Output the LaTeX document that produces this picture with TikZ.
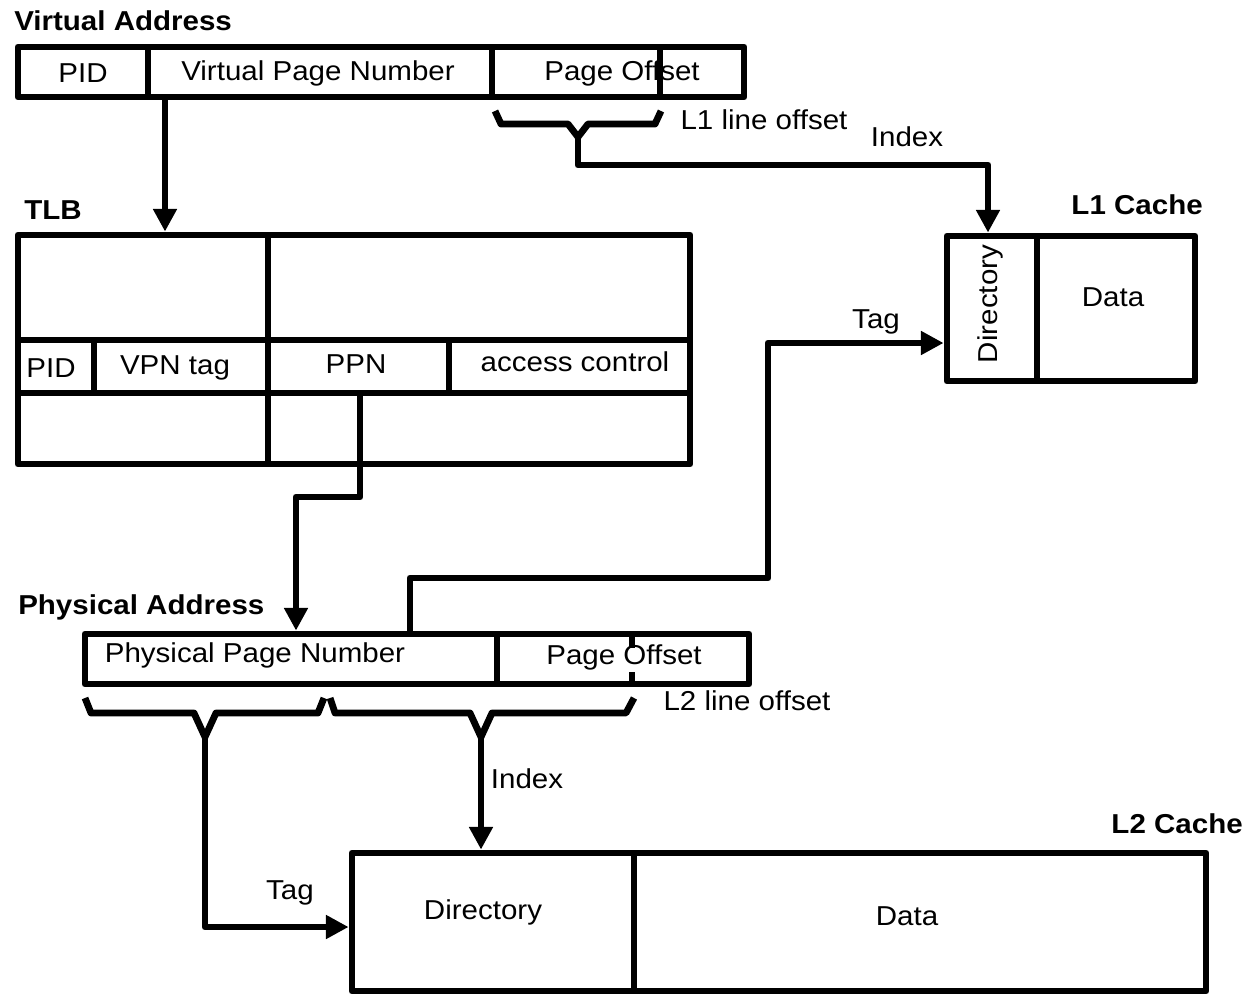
\documentclass[tikz,border=0pt]{standalone}
\usepackage{fontspec}
\setmainfont[FakeStretch=1.08]{Liberation Sans}
\usetikzlibrary{arrows.meta,fit,calc}
\begin{document}
\begin{tikzpicture}[x=0.75pt,y=-0.75pt,line join=round,
  box/.style={draw,line width=5.1pt,inner sep=0pt},
  wire/.style={line width=5.1pt},
  thin/.style={line width=3.8pt},
  arr/.style={line width=5.1pt,-{Triangle[length=17pt,width=17pt]}},
  lbl/.style={font=\fontsize{20.5}{24}\selectfont,inner sep=0pt},
  ttl/.style={font=\fontsize{20.5}{24}\selectfont\bfseries,inner sep=0pt}]
\useasboundingbox (0,0) rectangle (1248,995);

% ---------- Virtual address ----------
\node[ttl,anchor=west] (vat) at (14,21) {Virtual Address};
\node[box,fit={(18,47)(744,97)}] (va) {};
\draw[wire] (148,47) -- (148,97);
\draw[wire] (492,47) -- (492,97);
\draw[thin] (660,47) -- (660,97);
\node[lbl] (vpid) at (83,73) {PID};
\node[lbl] (vvpn) at (318,73) {Virtual Page Number};
\node[lbl] (vpo) at (622,73) {Page Offset};

% L1 brace
\coordinate (b1) at (578,137);
\draw[wire] (495,111) -- (501,124) -- (568,124) -- (b1) -- (588,124) -- (655,124) -- (661,111);
\node[lbl] (l1lo) at (764,120) {L1 line offset};
\node[lbl] (l1idx) at (907,137) {Index};

% ---------- TLB ----------
\node[ttl,anchor=west] (tlbt) at (24,210) {TLB};
\node[box,fit={(18,235)(690,464)}] (tlb) {};
\draw[wire] (18,340) -- (690,340);
\draw[wire] (18,393) -- (690,393);
\draw[wire] (268,235) -- (268,464);
\draw[wire] (94,340) -- (94,393);
\draw[wire] (449,340) -- (449,393);
\node[lbl] (tpid) at (51,368) {PID};
\node[lbl] (tvpn) at (175,368) {VPN tag};
\node[lbl] (tppn) at (356,364) {PPN};
\node[lbl] (tac) at (575,362) {access control};
\coordinate (vaout) at (165,97);
\draw[arr] (vaout) -- (vaout |- tlb.north);

% ---------- L1 cache ----------
\node[ttl,anchor=east] (l1t) at (1203,205) {L1 Cache};
\node[box,fit={(947,236)(1195,381)}] (l1) {};
\draw[wire] (1037,236) -- (1037,381);
\node[lbl,rotate=90] (l1dir) at (990,304) {Directory};
\node[lbl] (l1data) at (1113,297) {Data};
\draw[arr] (b1) -- (578,165) -- (988,165) -- (988,0 |- l1.north);

% ---------- Physical address ----------
\node[ttl,anchor=west] (pat) at (18,607) {Physical Address};
\node[box,fit={(85,634)(749,684)}] (pa) {};
\draw[wire] (497,634) -- (497,684);
\draw[thin] (632,634) -- (632,648);
\draw[thin] (632,672) -- (632,684);
\node[lbl] (pppn) at (255,655) {Physical Page Number};
\node[lbl] (ppo) at (624,657) {Page Offset};
\node[lbl] (l2lo) at (747,701) {L2 line offset};

% TLB PPN -> physical address
\coordinate (ppnout) at (360,393);
\draw[arr] (ppnout) -- (360,497) -- (296,497) -- (296,0 |- pa.north);

% physical address tag -> L1
\coordinate (patag) at (410,634);
\draw[arr] (patag) -- (410,578) -- (768,578) -- (768,343) -- (l1.west |- 0,343);
\node[lbl] (l1tag) at (876,322) {Tag};

% L2 braces
\coordinate (b2) at (205,737);
\coordinate (b3) at (481,737);
\draw[wire] (85,698) -- (91,713) -- (194,713) -- (b2) -- (216,713) -- (318,713) -- (324,698);
\draw[wire] (330,698) -- (335,713) -- (470,713) -- (b3) -- (492,713) -- (626,713) -- (634,698);

% ---------- L2 cache ----------
\node[ttl,anchor=east] (l2t) at (1243,824) {L2 Cache};
\node[box,fit={(352,853)(1206,991)}] (l2) {};
\draw[wire] (634,853) -- (634,991);
\node[lbl] (l2dir) at (483,912) {Directory};
\node[lbl] (l2data) at (907,916) {Data};
\draw[arr] (b3) -- (b3 |- l2.north);
\node[lbl] (l2idx) at (527,779) {Index};
\draw[arr] (b2) -- (205,927) -- (l2.west |- 0,927);
\node[lbl] (l2tag) at (290,893) {Tag};
\end{tikzpicture}
\end{document}
